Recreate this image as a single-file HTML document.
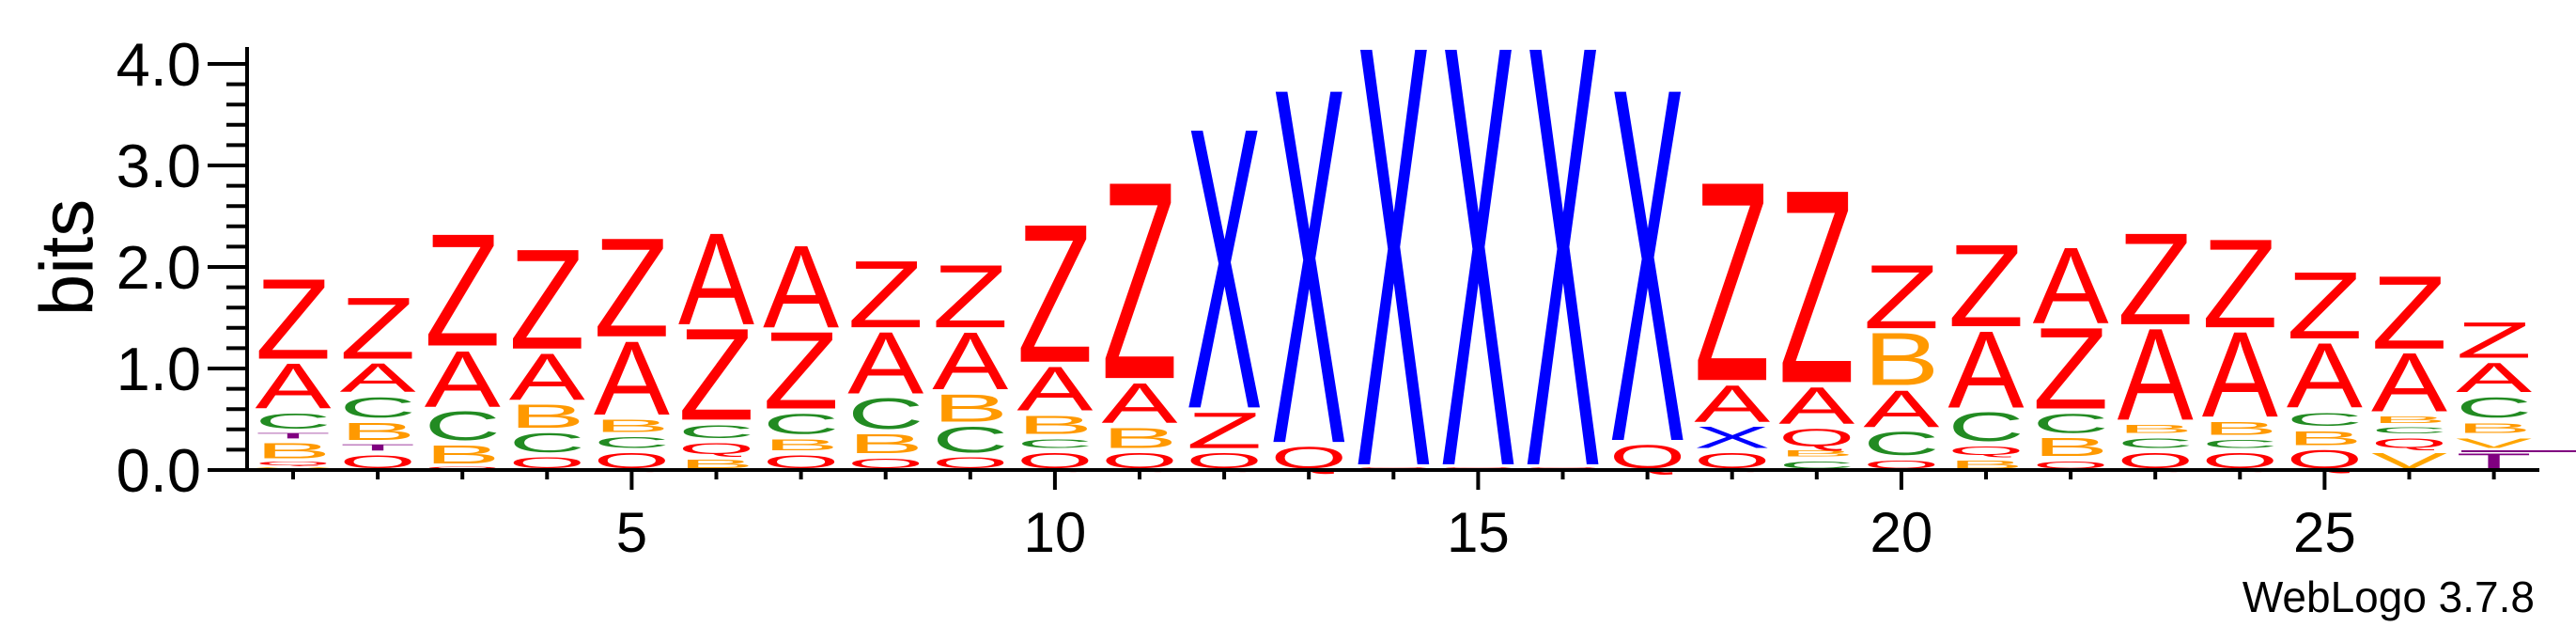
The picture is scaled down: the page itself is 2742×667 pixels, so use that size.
<!DOCTYPE html>
<html><head><meta charset="utf-8">
<style>
html,body{margin:0;padding:0;background:#fff;}
svg{display:block;}
text{font-family:"Liberation Sans",sans-serif;}
</style></head>
<body>
<svg id="chart" width="2742" height="667" viewBox="0 0 2742 667" xmlns="http://www.w3.org/2000/svg">
<g id="marks"></g>
<g id="axes"></g>
<text x="71" y="274" font-size="80" text-anchor="middle" dominant-baseline="central" transform="rotate(-90 71 274)">bits</text>
<text x="2698" y="651" font-size="46" text-anchor="end">WebLogo 3.7.8</text>
</svg>
<script>
const positions = [1,2,3,4,5,6,7,8,9,10,11,12,13,14,15,16,17,18,19,20,21,22,23,24,25,26,27];
const stackLetters = [
 ["V","Q","B","T","C","A","Z"],
 ["Q","T","B","C","A","Z"],
 ["Q","B","C","A","Z"],
 ["Q","C","B","A","Z"],
 ["Q","C","B","A","Z"],
 ["B","Q","C","Z","A"],
 ["Q","B","C","Z","A"],
 ["Q","B","C","A","Z"],
 ["Q","C","B","A","Z"],
 ["Q","C","B","A","Z"],
 ["Q","B","A","Z"],
 ["Q","Z","X"],
 ["Q","X"],
 ["Q","X"],
 ["Q","X"],
 ["Q","X"],
 ["Q","X"],
 ["Q","X","A","Z"],
 ["C","B","Q","A","Z"],
 ["Q","C","A","B","Z"],
 ["B","Q","C","A","Z"],
 ["Q","B","C","Z","A"],
 ["Q","C","B","A","Z"],
 ["Q","C","B","A","Z"],
 ["Q","B","C","A","Z"],
 ["V","Q","C","B","A","Z"],
 ["T","V","B","C","A","Z"]
];
const stackHeights = [
 [0.04,0.06,0.2,0.09,0.2,0.49,0.83],
 [0.18,0.1,0.22,0.25,0.33,0.65],
 [0.05,0.23,0.33,0.6,1.14],
 [0.16,0.24,0.28,0.5,1.02],
 [0.2,0.16,0.17,0.77,1.01],
 [0.14,0.16,0.18,0.94,0.94],
 [0.18,0.16,0.25,0.8,0.85],
 [0.15,0.24,0.35,0.65,0.7],
 [0.16,0.3,0.32,0.61,0.66],
 [0.2,0.14,0.23,0.48,1.39],
 [0.2,0.25,0.44,1.96],
 [0.2,0.4,2.77],
 [0.26,3.49],
 [0.04,4.12],
 [0.04,4.12],
 [0.04,4.12],
 [0.28,3.47],
 [0.2,0.26,0.41,1.98],
 [0.12,0.1,0.22,0.41,1.92],
 [0.13,0.28,0.41,0.56,0.67],
 [0.13,0.14,0.33,0.8,0.85],
 [0.12,0.23,0.24,0.84,0.79],
 [0.2,0.15,0.13,0.94,0.94],
 [0.2,0.13,0.18,0.88,0.91],
 [0.23,0.19,0.18,0.68,0.7],
 [0.2,0.15,0.1,0.11,0.62,0.76],
 [0.2,0.15,0.15,0.25,0.34,0.4]
];
const yTicks = [0,1,2,3,4];
const yTickLabels = ["0.0","1.0","2.0","3.0","4.0"];
const xTickLabels = [5,10,15,20,25];

const NS = "http://www.w3.org/2000/svg";
const colors = {A:"#FF0000",Z:"#FF0000",Q:"#FF0000",X:"#0000FF",C:"#228B22",B:"#FF9900",V:"#FFA500",T:"#800080"};
const x0 = 312, colW = 90.1, letterW = 81, base = 500, bitPx = 108, capH = 68.5, gapPx = 6;
function xScale(p){ return x0 + (p-1)*colW; }
function yScale(b){ return base - b*bitPx; }

const marks = document.getElementById("marks");
positions.forEach((p,i)=>{
  const g = document.createElementNS(NS,"g");
  
  
  marks.appendChild(g);
  let cum = 0;
  stackLetters[i].forEach((L,j)=>{
    const h = stackHeights[i][j];
    const yb = yScale(cum);
    const hp = h*bitPx;
    cum += h;
    const gh = Math.max(hp - gapPx, hp*0.6);
    const t = document.createElementNS(NS,"text");
    
    
    t.setAttribute("x", 0); t.setAttribute("y", 0);
    t.setAttribute("font-size", 100);
    t.setAttribute("fill", colors[L]);
    t.setAttribute("textLength", letterW);
    t.setAttribute("lengthAdjust", "spacingAndGlyphs");
    t.setAttribute("transform", "translate(" + (xScale(p)-letterW/2) + "," + (yb - (hp-gh)*0.3) + ") scale(1," + (gh/capH) + ")");
    t.textContent = L;
    g.appendChild(t);
  });
});

const axes = document.getElementById("axes");
function line(x1,y1,x2,y2,w){
  const l = document.createElementNS(NS,"line");
  l.setAttribute("x1",x1);l.setAttribute("y1",y1);l.setAttribute("x2",x2);l.setAttribute("y2",y2);
  l.setAttribute("stroke","#000");l.setAttribute("stroke-width",w);
  axes.appendChild(l); return l;
}
const ya = line(263,50,263,502,4);


const xa = line(261,500,2703,500,4);


for(let k=0;k<=20;k++){
  const b = k*0.2;
  const major = k%5===0;
  const tk = line(major?221:241, yScale(b), 263, yScale(b), 4);
  
  
}
yTicks.forEach((v,i)=>{
  const t = document.createElementNS(NS,"text");
  
  
  t.setAttribute("x",214); t.setAttribute("y",yScale(v)+23);
  t.setAttribute("font-size",65); t.setAttribute("text-anchor","end");
  t.textContent = yTickLabels[i];
  axes.appendChild(t);
});
positions.forEach(p=>{
  const major = xTickLabels.indexOf(p)>=0;
  const tk = line(xScale(p),500,xScale(p),major?521:510,4);
  
  
});
xTickLabels.forEach(v=>{
  const t = document.createElementNS(NS,"text");
  
  
  t.setAttribute("x",xScale(v)); t.setAttribute("y",587);
  t.setAttribute("font-size",60); t.setAttribute("text-anchor","middle");
  t.textContent = v;
  axes.appendChild(t);
});
const tail = line(2620,480,2742,480,2);
tail.setAttribute("stroke","#800080");


</script>
</body></html>
